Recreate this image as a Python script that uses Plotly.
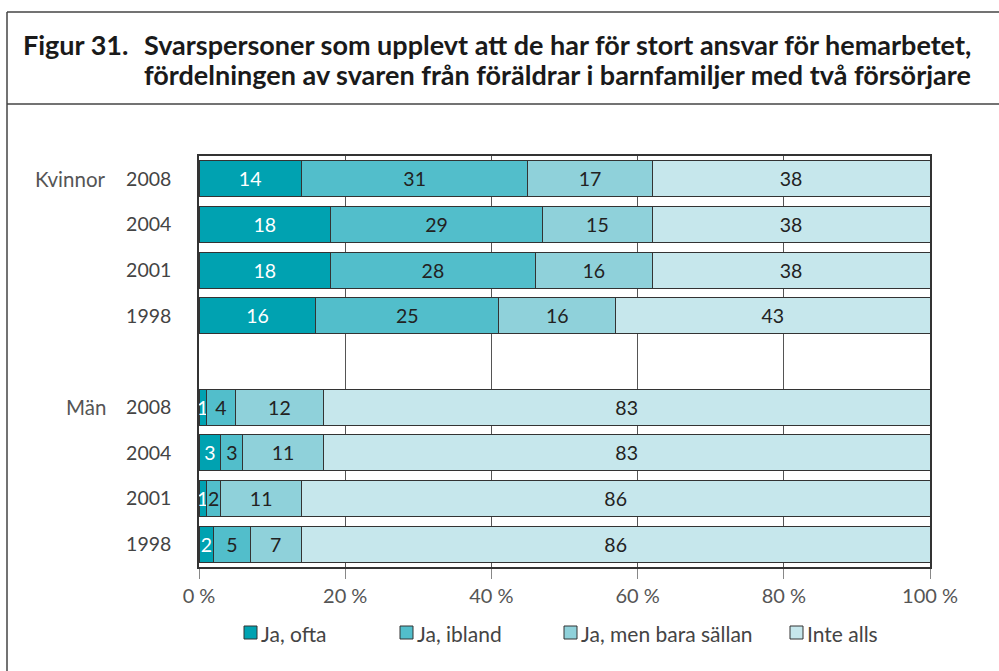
import plotly.graph_objects as go

# ---- data ----
row_keys = ["K2008", "K2004", "K2001", "K1998", "gap", "M2008", "M2004", "M2001", "M1998"]
year_labels = ["2008", "2004", "2001", "1998", "", "2008", "2004", "2001", "1998"]
group_labels = ["Kvinnor", "Män"]
group_rows = ["K2008", "M2008"]
data_rows = ["K2008", "K2004", "K2001", "K1998", "M2008", "M2004", "M2001", "M1998"]

series_names = ["Ja, ofta", "Ja, ibland", "Ja, men bara sällan", "Inte alls"]
ja_ofta = [14, 18, 18, 16, 1, 3, 1, 2]
ja_ibland = [31, 29, 28, 25, 4, 3, 2, 5]
ja_sallan = [17, 15, 16, 16, 12, 11, 11, 7]
inte_alls = [38, 38, 38, 43, 83, 83, 86, 86]
series_values = [ja_ofta, ja_ibland, ja_sallan, inte_alls]

colors = ["#00A2B1", "#52BECB", "#8FD1DA", "#C6E7EC"]
text_colors = ["#FFFFFF", "#222222", "#222222", "#222222"]

x_ticks = [0, 20, 40, 60, 80, 100]
x_ticktext = ["0 %", "20 %", "40 %", "60 %", "80 %", "100 %"]

title_num = "Figur 31."
title_line1 = "Svarspersoner som upplevt att de har för stort ansvar för hemarbetet,"
title_line2 = "fördelningen av svaren från föräldrar i barnfamiljer med två försörjare"

# ---- geometry helpers (pixels -> paper) ----
W, H = 999, 671
ML, MR, MT, MB = 199, 69, 156, 104
PW, PH = W - ML - MR, H - MT - MB


def px(x):
    return (x - ML) / PW


def py(y):
    return (H - MB - y) / PH


FONT = "Lato, 'Open Sans', sans-serif"

fig = go.Figure()
for name, vals, col, tcol in zip(series_names, series_values, colors, text_colors):
    fig.add_trace(go.Bar(
        y=data_rows, x=vals, name=name, orientation="h",
        marker=dict(color=col, line=dict(color="#333333", width=1)),
        text=[str(v) for v in vals], textposition="inside",
        insidetextanchor="middle", constraintext="none",
        textfont=dict(family=FONT, size=19.5, color=tcol),
        showlegend=False, hoverinfo="skip",
    ))

fig.update_layout(
    width=W, height=H, barmode="stack", bargap=0.21,
    margin=dict(l=ML, r=MR, t=MT, b=MB),
    plot_bgcolor="white", paper_bgcolor="white",
    font=dict(family=FONT, size=19, color="#444444"),
    uniformtext=dict(mode="show", minsize=19),
    xaxis=dict(range=[0, 100], tickvals=x_ticks, ticktext=x_ticktext,
               showgrid=True, gridcolor="#555555", gridwidth=1,
               zeroline=False, showline=True, mirror=True,
               linecolor="#333333", linewidth=1.5,
               ticks="outside", ticklen=10, tickcolor="#888888",
               tickfont=dict(size=20, color="#555555")),
    yaxis=dict(type="category", categoryorder="array", categoryarray=row_keys,
               tickvals=row_keys, ticktext=year_labels, autorange="reversed",
               showgrid=False, showline=True, mirror=True,
               linecolor="#333333", linewidth=1.5,
               ticks="outside", ticklen=22, tickcolor="rgba(0,0,0,0)",
               tickfont=dict(size=19.5, color="#444444")),
)

# group labels
for lab, row in zip(group_labels, group_rows):
    fig.add_annotation(x=px(108), xref="paper", y=row, yref="y", text=lab,
                       showarrow=False, xanchor="right", yanchor="middle",
                       font=dict(size=20.5, color="#555555"))

# title
TF = dict(size=27, color="#1a1a1a")
fig.add_annotation(x=px(21), xref="paper", y=py(44), yref="paper", text="<b>" + title_num + "</b>",
                   showarrow=False, xanchor="left", yanchor="middle", font=TF)
fig.add_annotation(x=px(142), xref="paper", y=py(44), yref="paper", text="<b>" + title_line1 + "</b>",
                   showarrow=False, xanchor="left", yanchor="middle", font=TF)
fig.add_annotation(x=px(142), xref="paper", y=py(75), yref="paper", text="<b>" + title_line2 + "</b>",
                   showarrow=False, xanchor="left", yanchor="middle", font=TF)

# outer frame
frame = dict(color="#444444", width=1.5)
fig.add_shape(type="line", xref="paper", yref="paper", x0=px(7), x1=px(1010), y0=py(12), y1=py(12), line=frame)
fig.add_shape(type="line", xref="paper", yref="paper", x0=px(7), x1=px(7), y0=py(12), y1=py(680), line=frame)
fig.add_shape(type="line", xref="paper", yref="paper", x0=px(7), x1=px(1010), y0=py(104), y1=py(104), line=frame)

# legend (manual)
legend_x = [244, 400, 564, 790]
for name, col, lx in zip(series_names, colors, legend_x):
    fig.add_shape(type="rect", xref="paper", yref="paper",
                  x0=px(lx), x1=px(lx + 13), y0=py(626), y1=py(639),
                  fillcolor=col, line=dict(color="#333333", width=1))
    fig.add_annotation(x=px(lx + 15), xref="paper", y=py(633), yref="paper", text=name,
                       showarrow=False, xanchor="left", yanchor="middle",
                       font=dict(size=21, color="#444444"))

fig.write_html("out.html", config={"displayModeBar": False},
               post_script="document.body.style.margin='0';document.body.style.overflow='hidden';")
